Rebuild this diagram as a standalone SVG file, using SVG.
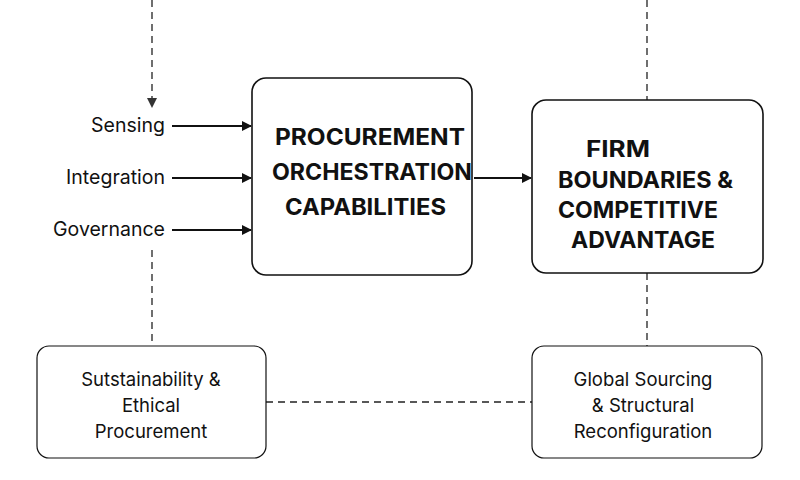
<svg xmlns="http://www.w3.org/2000/svg" width="800" height="480" viewBox="0 0 800 480">
<style>
.box{fill:#fff;stroke:#111;stroke-width:1.6}
.sm{fill:#fff;stroke:#111;stroke-width:1.2}
.t{font-family:"Inter","Liberation Sans",sans-serif;fill:#111}
.b{font-weight:bold;font-size:23px}
.n{font-size:18.5px;text-anchor:middle}
.l{font-size:19.5px;text-anchor:end}
.d{stroke:#222;stroke-width:1.3;stroke-dasharray:7 5;fill:none}
.a{stroke:#111;stroke-width:2;fill:none}
</style>
<defs>
<marker id="ah" markerWidth="10" markerHeight="10" refX="9" refY="5" orient="auto" markerUnits="userSpaceOnUse"><path d="M0,0 L10,5 L0,10 Z" fill="#111"/></marker>
<marker id="dh" markerWidth="10" markerHeight="10" refX="5" refY="9" orient="0" markerUnits="userSpaceOnUse"><path d="M0,0 L10,0 L5,10 Z" fill="#333"/></marker>
</defs>
<g id="connectors">
<path class="d" d="M152,0 V107" marker-end="url(#dh)"/>
<path class="d" d="M647,0 V100"/>
<path class="d" d="M152,250 V346"/>
<path class="d" d="M647,273 V346"/>
<path class="d" d="M266,402 H532"/>
<path class="a" d="M172,126 H251" marker-end="url(#ah)"/>
<path class="a" d="M172,178 H251" marker-end="url(#ah)"/>
<path class="a" d="M172,230 H251" marker-end="url(#ah)"/>
<path class="a" d="M474,178 H531" marker-end="url(#ah)"/>
</g>
<g id="labels">
<text class="t l" x="165" y="132">Sensing</text>
<text class="t l" x="165" y="184">Integration</text>
<text class="t l" x="165" y="236">Governance</text>
</g>
<g id="poc">
<rect class="box" x="252" y="78" width="220" height="197" rx="14"/>
<text class="t b" x="275" y="145" textLength="190" lengthAdjust="spacingAndGlyphs">PROCUREMENT</text>
<text class="t b" x="272" y="180" textLength="200" lengthAdjust="spacingAndGlyphs">ORCHESTRATION</text>
<text class="t b" x="285" y="215" textLength="161" lengthAdjust="spacingAndGlyphs">CAPABILITIES</text>
</g>
<g id="firm">
<rect class="box" x="532" y="100" width="231" height="173" rx="14"/>
<text class="t b" x="586" y="157" textLength="64" lengthAdjust="spacingAndGlyphs">FIRM</text>
<text class="t b" x="558" y="188" textLength="175" lengthAdjust="spacingAndGlyphs">BOUNDARIES &amp;</text>
<text class="t b" x="558" y="218" textLength="160" lengthAdjust="spacingAndGlyphs">COMPETITIVE</text>
<text class="t b" x="571" y="248" textLength="144" lengthAdjust="spacingAndGlyphs">ADVANTAGE</text>
</g>
<g id="sust">
<rect class="sm" x="37" y="346" width="229" height="112" rx="12"/>
<text class="t n" x="151" y="386">Sutstainability &amp;</text>
<text class="t n" x="151" y="412">Ethical</text>
<text class="t n" x="151" y="438">Procurement</text>
</g>
<g id="global">
<rect class="sm" x="532" y="346" width="230" height="112" rx="12"/>
<text class="t n" x="643" y="386">Global Sourcing</text>
<text class="t n" x="643" y="412">&amp; Structural</text>
<text class="t n" x="643" y="438">Reconfiguration</text>
</g>
</svg>
